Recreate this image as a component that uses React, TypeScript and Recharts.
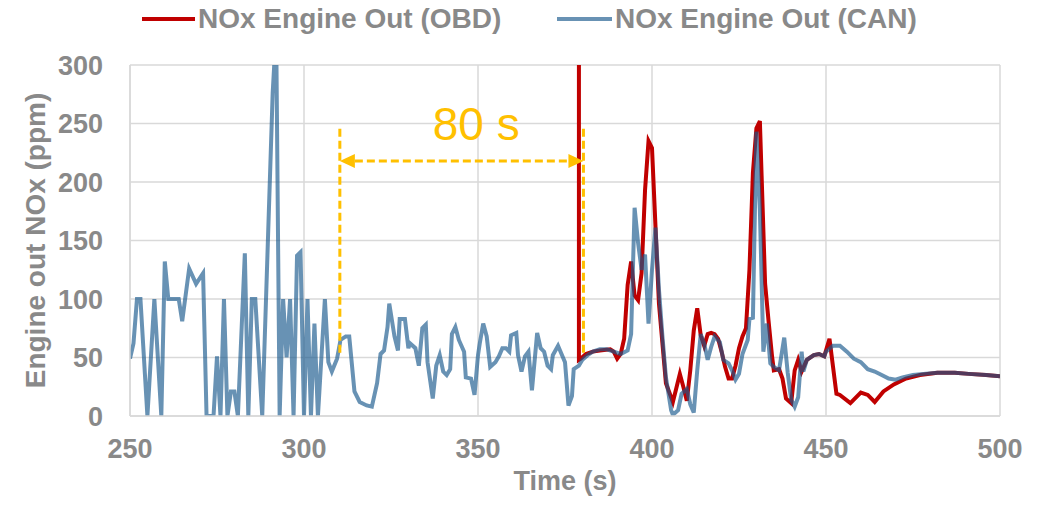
import React from 'react';
import {
  LineChart,
  Line,
  XAxis,
  YAxis,
  CartesianGrid,
  ReferenceLine,
  ReferenceDot,
  Label,
} from 'recharts';

const FONT = '"Liberation Sans", Arial, sans-serif';
const GREY = '#898989';
const RED = '#C00000';
const BLUE = '#17588C';
const AMBER = '#FFC000';

// NOx from the CAN bus (ppm) over time (s)
const canTime = [
  250, 251, 252, 253, 255, 257, 259, 260, 261, 264,
  265, 267, 269, 271, 272, 274, 275, 276, 277, 278,
  279, 280, 281, 283, 284, 285, 286, 288, 291, 292,
  293, 294, 295, 296, 297, 298, 299, 300, 301, 302,
  303, 304, 306, 307, 308, 309.5, 310.5, 312, 313, 314.5,
  316, 318, 319.5, 321, 322, 323, 324, 324.5, 326, 327,
  327.5, 329, 330, 330.5, 332, 333, 334, 335, 335.5, 337,
  338, 339, 340, 341, 342, 342.5, 343.5, 344.5, 346, 346.5,
  348, 349, 350, 350.5, 351.5, 352.5, 353.5, 355, 356, 357,
  358, 359, 359.5, 361, 361.5, 362.5, 363.5, 364.5, 365.5, 367,
  368, 369, 370, 371, 371.5, 373, 375, 376, 377, 377.5,
  379, 380, 381.5, 383, 385, 387, 389, 391, 393, 394,
  395, 396, 397, 398, 399, 400, 401, 402, 403, 404,
  405.5, 406, 407.5, 408.5, 410, 411, 412, 413, 414, 415,
  416, 417, 418, 419.5, 420.5, 422, 423, 424, 425, 426,
  427.5, 428, 429, 430, 431, 432, 433, 434, 435, 436.5,
  438, 439, 440, 441, 442, 443, 443.5, 444.5, 446.5, 448,
  449.5, 450, 452, 454, 456, 458, 460, 462, 464, 466,
  468, 470, 472, 475, 478, 482, 487, 491, 496, 500,
];
const canNox = [
  49, 62, 100, 100, 0, 100, 0, 132, 100, 100,
  81, 126, 113, 122, 0, 0, 51, 0, 100, 0,
  21, 21, 0, 139, 0, 100, 100, 0, 276, 330,
  0, 100, 50, 100, 0, 137, 140, 0, 100, 0,
  79, 0, 100, 46, 38, 49, 65, 68, 68, 21,
  12, 9, 8, 28, 53, 56, 76, 96, 68, 56,
  83, 83, 58, 62, 58, 43, 75, 78, 46, 15,
  43, 52, 38, 35, 40, 70, 76, 65, 55, 33,
  32, 18, 52, 62, 79, 68, 42, 46, 51, 58,
  58, 55, 69, 71, 52, 38, 51, 55, 22, 71,
  58, 55, 43, 40, 52, 60, 46, 9, 17, 40,
  43, 48, 52, 55, 57, 57, 55, 53, 56, 70,
  178, 148, 125, 138, 79, 125, 161, 108, 68, 33,
  5, 1, 5, 19, 23, 10, 3, 39, 70, 62,
  48, 59, 68, 63, 48, 45, 39, 31, 36, 53,
  65, 83, 84, 243, 176, 55, 79, 45, 42, 39,
  67, 37, 14, 8, 16, 55, 38, 48, 52, 53,
  51, 55, 60, 60, 55, 49, 46, 40, 38, 35,
  32, 31, 33, 35, 36, 37, 37, 36, 35, 34,
];

// NOx reported over OBD (ppm); starts with an off-scale value at ~379 s
const obdTime = [
  379, 379, 379.5, 381, 383, 385, 388, 389, 390, 391,
  392, 393, 394, 395, 396, 397, 398, 399, 400, 401,
  402, 403, 404, 406, 407, 408, 409, 410, 411, 412,
  413, 414, 415, 416, 417, 418, 419, 420, 421, 422,
  423, 424, 425, 426, 427, 428, 429, 430, 431, 431.5,
  432.5, 433.5, 434.5, 435, 436.5, 437.5, 438.5, 440, 441, 442,
  443, 444.5, 446.5, 448, 449.5, 451, 453, 454, 457, 460,
  462, 464, 466.5, 469.5, 473, 477, 482, 487, 491, 496,
  500,
];
const obdNox = [
  1000, 48, 49, 53, 55, 56, 57, 55, 49, 53,
  66, 112, 132, 103, 99, 122, 193, 235, 229, 162,
  96, 62, 28, 12, 24, 36, 25, 13, 39, 73,
  92, 69, 60, 70, 71, 70, 66, 55, 42, 32,
  32, 43, 58, 68, 75, 125, 208, 246, 252, 205,
  113, 81, 51, 39, 40, 32, 15, 11, 39, 48,
  38, 48, 52, 53, 51, 66, 19, 18, 11, 20,
  18, 12, 21, 27, 32, 35, 37, 37, 36, 35,
  34,
];

const xTicks = [250, 300, 350, 400, 450, 500];
const yTicks = [0, 50, 100, 150, 200, 250, 300];

// "80 s" delay annotation
const delayFrom = 310.3;
const delayTo = 380.3;
const bracketLow = 54;
const bracketHigh = 247;
const arrowLevel = 218;
const delayText = '80 s';
const delayTextAt = { x: 349.5, y: 236 };

const canData = canTime.map((t, i) => ({ t, v: canNox[i] }));
const obdData = obdTime.map((t, i) => ({ t, v: obdNox[i] }));

const tickStyle = { fill: GREY, fontSize: 27, fontWeight: 700, fontFamily: FONT };

const DoubleArrow = (props: any) => {
  const { x1, y1, x2 } = props;
  const head = 15;
  const half = 7;
  return (
    <g>
      <line
        x1={x1 + head}
        y1={y1}
        x2={x2 - head}
        y2={y1}
        stroke={AMBER}
        strokeWidth={3}
        strokeDasharray="8 4"
      />
      <polygon points={`${x1},${y1} ${x1 + head},${y1 - half} ${x1 + head},${y1 + half}`} fill={AMBER} />
      <polygon points={`${x2},${y1} ${x2 - head},${y1 - half} ${x2 - head},${y1 + half}`} fill={AMBER} />
    </g>
  );
};

const DelayLabel = (props: any) => (
  <text x={props.cx} y={props.cy} textAnchor="middle" fill={AMBER} fontSize={46} fontFamily={FONT}>
    {delayText}
  </text>
);

const YTitle = (props: any) => {
  const vb = props.viewBox;
  const x = vb.x + 45;
  const y = vb.y + vb.height / 2;
  return (
    <text
      x={x}
      y={y}
      transform={`rotate(-90, ${x}, ${y})`}
      textAnchor="middle"
      fill={GREY}
      fontSize={28}
      fontWeight={700}
      fontFamily={FONT}
    >
      Engine out NOx (ppm)
    </text>
  );
};

const XTitle = (props: any) => {
  const vb = props.viewBox;
  return (
    <text
      x={vb.x + vb.width / 2}
      y={vb.y + 74}
      textAnchor="middle"
      fill={GREY}
      fontSize={27}
      fontWeight={700}
      fontFamily={FONT}
    >
      Time (s)
    </text>
  );
};

const LegendOverlay = () => (
  <svg width={1042} height={45} style={{ position: 'absolute', left: 0, top: 0 }}>
    <line x1={142} y1={19} x2={195} y2={19} stroke={RED} strokeWidth={4} />
    <text x={198} y={28} fill={GREY} fontSize={28} fontWeight={700} fontFamily={FONT}>
      NOx Engine Out (OBD)
    </text>
    <line x1={557} y1={19} x2={612} y2={19} stroke="#6892B4" strokeWidth={4} />
    <text x={615} y={28} fill={GREY} fontSize={28} fontWeight={700} fontFamily={FONT}>
      NOx Engine Out (CAN)
    </text>
  </svg>
);

export default function App() {
  return (
    <div style={{ position: 'absolute', left: 0, top: 0, width: 1042, height: 505, background: '#fff' }}>
      <LineChart width={1042} height={505} margin={{ top: 65, right: 42, bottom: 0, left: 0 }}>
        <CartesianGrid stroke="#D9D9D9" strokeWidth={1.5} />
        <XAxis
          type="number"
          dataKey="t"
          domain={[250, 500]}
          ticks={xTicks}
          height={89}
          tickSize={0}
          tickMargin={23}
          tick={tickStyle}
          axisLine={{ stroke: '#D9D9D9', strokeWidth: 1.5 }}
          tickLine={false}
          allowDataOverflow
        >
          <Label content={XTitle} />
        </XAxis>
        <YAxis
          type="number"
          domain={[0, 300]}
          ticks={yTicks}
          width={130}
          tickSize={0}
          tickMargin={27}
          tick={tickStyle}
          axisLine={{ stroke: '#D9D9D9', strokeWidth: 1.5 }}
          tickLine={false}
          allowDataOverflow
        >
          <Label content={YTitle} />
        </YAxis>
        <Line
          data={obdData}
          dataKey="v"
          type="linear"
          stroke={RED}
          strokeWidth={4}
          dot={false}
          activeDot={false}
          isAnimationActive={false}
        />
        <Line
          data={canData}
          dataKey="v"
          type="linear"
          stroke={BLUE}
          strokeOpacity={0.65}
          strokeWidth={4}
          dot={false}
          activeDot={false}
          isAnimationActive={false}
        />
        <ReferenceLine
          segment={[{ x: delayFrom, y: bracketLow }, { x: delayFrom, y: bracketHigh }]}
          stroke={AMBER}
          strokeWidth={3}
          strokeDasharray="8 4"
        />
        <ReferenceLine
          segment={[{ x: delayTo, y: bracketLow }, { x: delayTo, y: bracketHigh }]}
          stroke={AMBER}
          strokeWidth={3}
          strokeDasharray="8 4"
        />
        <ReferenceLine
          segment={[{ x: delayFrom, y: arrowLevel }, { x: delayTo, y: arrowLevel }]}
          shape={DoubleArrow}
        />
        <ReferenceDot x={delayTextAt.x} y={delayTextAt.y} r={0} shape={DelayLabel} />
      </LineChart>
      <LegendOverlay />
    </div>
  );
}
